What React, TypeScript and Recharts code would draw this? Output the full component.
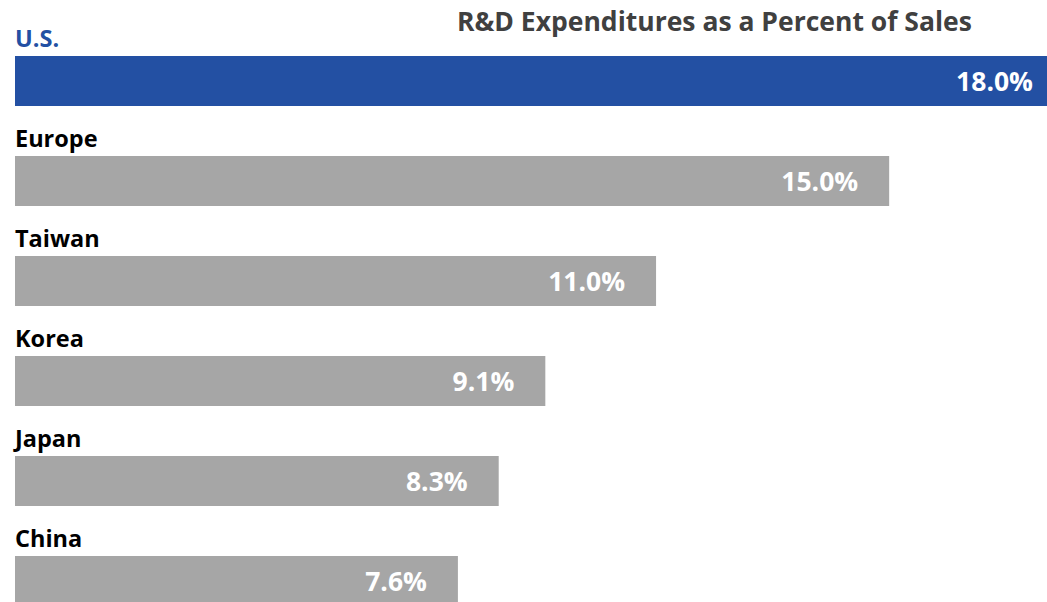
import React from "react";
import { BarChart, Bar, XAxis, YAxis, Cell, LabelList } from "recharts";

const categories = ["U.S.", "Europe", "Taiwan", "Korea", "Japan", "China"];
const values = [18.0, 15.0, 11.0, 9.1, 8.3, 7.6];
const valueLabels = ["18.0%", "15.0%", "11.0%", "9.1%", "8.3%", "7.6%"];
const title = "R&D Expenditures as a Percent of Sales";

const BLUE = "#2350A3";
const GRAY = "#A6A6A6";
const FONT = "'Open Sans', sans-serif";

const data = categories.map((c, i) => ({ name: c, value: values[i], label: valueLabels[i] }));

const CategoryLabel = (props: any) => {
  const { x, y, index } = props;
  return (
    <text
      x={x}
      y={y - 9}
      fill={index === 0 ? BLUE : "#000000"}
      fontFamily={FONT}
      fontWeight={700}
      fontSize={23.5}
      textAnchor="start"
    >
      {categories[index]}
    </text>
  );
};

const ValueLabel = (props: any) => {
  const { x, y, width, height, index } = props;
  return (
    <text
      x={x + width - 31}
      y={y + height / 2 + 10}
      fill="#FFFFFF"
      fontFamily={FONT}
      fontWeight={700}
      fontSize={26.5}
      textAnchor="end"
    >
      {valueLabels[index]}
    </text>
  );
};

export default function App() {
  return (
    <div
      style={{
        position: "fixed",
        left: 0,
        top: 0,
        width: 1047,
        height: 602,
        overflow: "hidden",
        background: "#FFFFFF",
      }}
    >
      <div
        style={{
          position: "absolute",
          left: 457,
          top: 3,
          fontFamily: FONT,
          fontWeight: 700,
          fontSize: 26.5,
          color: "#404040",
          whiteSpace: "nowrap",
          lineHeight: "36px",
        }}
      >
        {title}
      </div>
      <BarChart
        width={1064}
        height={631}
        data={data}
        layout="vertical"
        margin={{ top: 31, right: 0, bottom: 0, left: 15 }}
        barSize={50}
      >
        <XAxis type="number" domain={[0, 18]} hide />
        <YAxis type="category" dataKey="name" hide />
        <Bar dataKey="value" isAnimationActive={false}>
          {data.map((d, i) => (
            <Cell key={d.name} fill={i === 0 ? BLUE : GRAY} />
          ))}
          <LabelList dataKey="name" content={<CategoryLabel />} />
          <LabelList dataKey="label" content={<ValueLabel />} />
        </Bar>
      </BarChart>
    </div>
  );
}
